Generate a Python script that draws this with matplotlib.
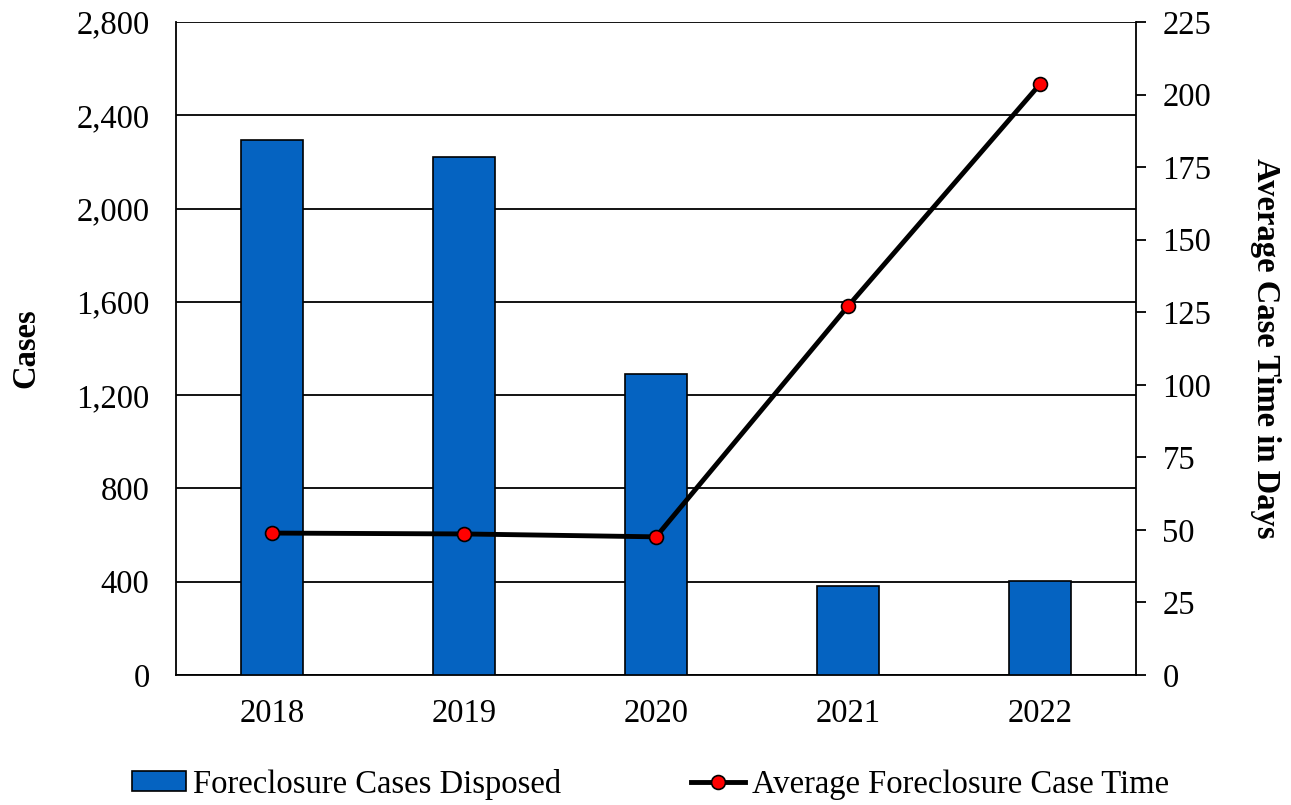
import matplotlib.pyplot as plt

plt.rcParams['font.family'] = ['Liberation Serif', 'DejaVu Serif']

years = ["2018", "2019", "2020", "2021", "2022"]
cases_disposed = [2295, 2222, 1290, 382, 405]
avg_case_days = [48.9, 48.6, 47.6, 127.1, 203.6]

fs = 23.5

fig = plt.figure(figsize=(12.91, 8.05), dpi=100)
ax = fig.add_axes([0.1363, 0.1615, 0.7437, 0.8112])
x = list(range(len(years)))

ax.bar(x, cases_disposed, width=0.32, color="#0563C1", edgecolor="black",
       linewidth=1.2, zorder=3, label="Foreclosure Cases Disposed")
ax.set_ylim(0, 2800)
ax.set_xlim(-0.5, 4.5)
ax.set_yticks(range(0, 2801, 400))
ax.set_yticklabels([f"{v:,}" for v in range(0, 2801, 400)])
ax.set_xticks(x)
ax.set_xticklabels(years)
ax.grid(axis="y", color="black", linewidth=1.3, zorder=0)
ax.tick_params(axis="y", length=0, labelsize=fs, pad=19)
ax.tick_params(axis="x", length=0, labelsize=fs, pad=17)
ax.set_ylabel("Cases", fontsize=fs, fontweight="bold", labelpad=25)
for s in ["top", "right"]:
    ax.spines[s].set_visible(False)
ax.spines["left"].set_linewidth(1.3)
ax.spines["bottom"].set_linewidth(1.3)

ax2 = ax.twinx()
ax2.plot(x, avg_case_days, color="black", linewidth=3.5, marker="o",
         markersize=10, markerfacecolor="red", markeredgecolor="black",
         markeredgewidth=1.2, zorder=4, label="Average Foreclosure Case Time")
ax2.set_ylim(0, 225)
ax2.set_yticks(range(0, 226, 25))
ax2.tick_params(axis="y", length=7, width=1.3, labelsize=fs, pad=12)
ax2.set_ylabel("Average Case Time in Days", fontsize=fs, fontweight="bold",
               rotation=270, labelpad=50)
for s in ["top", "left", "bottom"]:
    ax2.spines[s].set_visible(False)
ax2.spines["right"].set_linewidth(1.3)

h1, l1 = ax.get_legend_handles_labels()
h2, l2 = ax2.get_legend_handles_labels()
fig.legend(h1 + h2, l1 + l2, loc="lower center", bbox_to_anchor=(0.504, -0.03),
           ncol=2, frameon=False, fontsize=fs, columnspacing=4.0,
           handlelength=1.65, handleheight=0.55, handletextpad=0.2)

fig.savefig("out.png", dpi=100)
